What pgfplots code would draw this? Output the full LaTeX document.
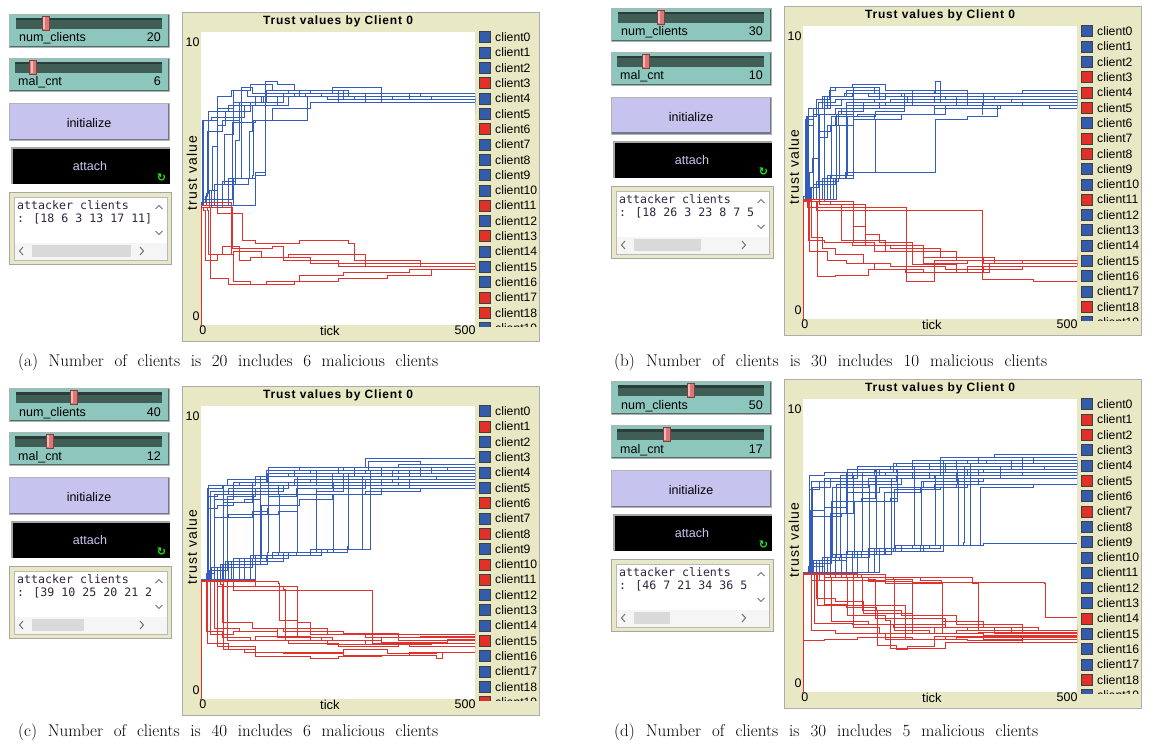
\documentclass[border=0pt]{standalone}
\usepackage{pgfplots}
\pgfplotsset{compat=1.18}
\usepackage{fontspec}
\newfontfamily\nlfont{Liberation Sans}
\newfontfamily\nlwide{Liberation Sans}[LetterSpace=8]
\newfontfamily\nltitle{Liberation Sans}[LetterSpace=7]
\newfontfamily\nlmono{DejaVu Sans Mono}
\newfontfamily\djv{DejaVu Sans}
\definecolor{blu}{RGB}{52,92,188}
\definecolor{rd}{RGB}{224,50,44}
\definecolor{legblue}{RGB}{52,92,172}
\definecolor{legred}{RGB}{226,48,40}
\definecolor{plotbg}{RGB}{233,232,196}
\definecolor{sliderbg}{RGB}{140,198,188}
\definecolor{track}{RGB}{64,94,86}
\definecolor{thumb}{RGB}{222,118,118}
\definecolor{btn}{RGB}{198,196,238}
\definecolor{monbg}{RGB}{232,232,198}
\definecolor{attachtxt}{RGB}{200,200,240}
\definecolor{montxt}{RGB}{48,36,60}

\pgfplotsset{
  nlaxis/.style={
    scale only axis, width=274.3pt, height=293pt,
    anchor=south west,
    xmin=0,xmax=500,ymin=0,ymax=10,
    axis background/.style={fill=white},
    axis line style={draw=none},
    major tick length=0pt,
    xtick={4,482}, xticklabels={0,500},
    ytick={0.31,9.66}, yticklabels={0,10},
    tick label style={font=\nlfont\fontsize{12.5}{13}\selectfont, inner sep=1pt},
    xticklabel style={anchor=north},
    yticklabel style={anchor=east},
    xlabel={tick}, ylabel={trust value},
    every axis x label/.style={at={(axis description cs:0.471,0)},anchor=north,font=\nlfont\fontsize{13}{14}\selectfont,inner sep=1pt},
    every axis y label/.style={at={(axis description cs:-0.032,0.519)},rotate=90,anchor=center,font=\nlwide\fontsize{14}{15}\selectfont},
    every axis plot/.append style={line width=0.7pt, const plot, mark=none},
    clip=true,
  },
}
\newcommand{\bline}[1]{\addplot[blu] coordinates {#1};}
\newcommand{\rline}[1]{\addplot[rd] coordinates {#1};}

% widgets: ox, oy, num, thumb1, mal, thumb2, attackers, scrollthumb end
\newcommand{\widgets}[8]{%
\begin{scope}[x=1pt,y=-1pt,shift={(#1,#2)}]
 % slider 1
 \fill[sliderbg] (9,14) rectangle (169,47);
 \draw[white!60!sliderbg, line width=1.2pt] (9.8,46.2)--(9.8,14.8)--(168.2,14.8);
 \draw[black!45!sliderbg, line width=1.2pt] (9.8,46.2)--(168.2,46.2)--(168.2,14.8);
 \draw[gray!60] (9,14) rectangle (169,47);
 \fill[track] (16,18) rectangle (162,29);
 \fill[black!35!track] (16,18) rectangle (162,20.5);
 \draw[thumb!55!black, fill=thumb] (#4,16) rectangle ++(7,14);
 \fill[white!50!thumb] (#4+1,17) rectangle ++(2,12);
 \node[anchor=base west, font=\nlfont\fontsize{12.5}{13}\selectfont, inner sep=0] at (19,42) {num\_clients};
 \node[anchor=base east, font=\nlfont\fontsize{12.5}{13}\selectfont, inner sep=0] at (161,42) {#3};
 % slider 2
 \fill[sliderbg] (9,58) rectangle (169,91);
 \draw[white!60!sliderbg, line width=1.2pt] (9.8,90.2)--(9.8,58.8)--(168.2,58.8);
 \draw[black!45!sliderbg, line width=1.2pt] (9.8,90.2)--(168.2,90.2)--(168.2,58.8);
 \draw[gray!60] (9,58) rectangle (169,91);
 \fill[track] (15,62) rectangle (162,73);
 \fill[black!35!track] (15,62) rectangle (162,64.5);
 \draw[thumb!55!black, fill=thumb] (#6,60) rectangle ++(7,14);
 \fill[white!50!thumb] (#6+1,61) rectangle ++(2,12);
 \node[anchor=base west, font=\nlfont\fontsize{12.5}{13}\selectfont, inner sep=0] at (18,86) {mal\_cnt};
 \node[anchor=base east, font=\nlfont\fontsize{12.5}{13}\selectfont, inner sep=0] at (161,86) {#5};
 % initialize
 \fill[btn] (9,103) rectangle (169,140);
 \draw[white!50!btn, line width=1.2pt] (9.8,139.2)--(9.8,103.8)--(168.2,103.8);
 \draw[black!40!btn, line width=1.4pt] (9.8,139.2)--(168.2,139.2)--(168.2,103.8);
 \draw[gray!60] (9,103) rectangle (169,140);
 \node[font=\nlfont\fontsize{12.5}{13}\selectfont] at (89,123) {initialize};
 % attach
 \fill[black] (11,147) rectangle (170,184);
 \draw[gray!70, line width=1.6pt] (11.8,184)--(11.8,147.8)--(170,147.8);
 \node[font=\nlfont\fontsize{12.5}{13}\selectfont, text=attachtxt] at (90,166) {attach};
 \node[font=\djv\bfseries\fontsize{11}{11}\selectfont, text={rgb,255:red,30;green,235;blue,30}, inner sep=0] at (161.5,178) {↻};
 % monitor
 \fill[monbg] (9,192) rectangle (172,265);
 \draw[gray!70, line width=1pt] (9.5,192.5) rectangle (171.5,264.5);
 \fill[white] (14,197) rectangle (167,260);
 \draw[gray!55, line width=0.8pt] (14,197) rectangle (167,260);
 \fill[gray!8] (14.5,243) rectangle (166.5,259.5);
 \fill[gray!30] (32,245) rectangle (#8,257);
 \draw[gray!90!black, line width=1pt] (23,247)--(19.5,251)--(23,255);
 \draw[gray!90!black, line width=1pt] (140,247)--(143.5,251)--(140,255);
 \draw[gray!90!black, line width=1pt] (155.5,209)--(159,205.5)--(162.5,209);
 \draw[gray!90!black, line width=1pt] (155.5,231)--(159,234.5)--(162.5,231);
 \begin{scope}
  \clip (14,197) rectangle (151.5,242);
  \node[anchor=base west, font=\nlmono\fontsize{11.6}{12}\selectfont, text=montxt, inner sep=0] at (17,209) {attacker clients};
  \node[anchor=base west, font=\nlmono\fontsize{11.6}{12}\selectfont, text=montxt, inner sep=0] at (17,222) {#7};
 \end{scope}
\end{scope}}

\newcommand{\plotframe}[3]{%
\begin{scope}[x=1pt,y=-1pt,shift={(#1,#2)}]
 \fill[plotbg] (182,12) rectangle (540,342);
 \draw[gray!65, line width=1.2pt] (182.6,12.6) rectangle (539.4,341.4);
 \node[font=\nltitle\bfseries\fontsize{12}{12}\selectfont, inner sep=0] at (338,21) {Trust values by Client 0};
 \begin{scope}
  \clip (476,30) rectangle (536.5,326);
  \foreach \c [count=\i from 0] in {#3} {
    \draw[fill=\c, draw=black!75, line width=0.6pt] (479.5,{31.5+15.33*\i}) rectangle ++(11,11);
    \node[anchor=west, font=\nlfont\fontsize{12.2}{13}\selectfont, inner sep=0] at (495,{37+15.33*\i}) {client\i};
  }
 \end{scope}
\end{scope}}

\begin{document}
\begin{tikzpicture}
\useasboundingbox (0pt,0pt) rectangle (1153pt,-749pt);

\widgets{0}{0}{20}{42}{6}{29.5}{: [18 6 3 13 17 11]}{131}
\widgets{602}{-6}{30}{55}{10}{40}{: [18 26 3 23 8 7 5}{99}
\widgets{0}{374}{40}{70}{12}{46}{: [39 10 25 20 21 2}{84}
\widgets{602}{367}{50}{85}{17}{61}{: [46 7 21 34 36 5}{68}

\plotframe{0}{0}{legblue,legblue,legblue,legred,legblue,legblue,legred,legblue,legblue,legblue,legblue,legred,legblue,legred,legblue,legblue,legblue,legred,legred,legblue}
\plotframe{602}{-6}{legblue,legblue,legblue,legred,legred,legred,legblue,legred,legred,legblue,legblue,legred,legblue,legblue,legblue,legblue,legblue,legblue,legred,legblue}
\plotframe{0}{374}{legblue,legred,legblue,legblue,legblue,legblue,legred,legblue,legred,legblue,legred,legred,legblue,legblue,legblue,legred,legblue,legblue,legblue,legred}
\plotframe{602}{367}{legblue,legred,legred,legblue,legblue,legred,legblue,legred,legblue,legblue,legblue,legblue,legblue,legblue,legred,legblue,legblue,legblue,legred,legblue}

\node[anchor=west, inner sep=0, font=\fontsize{17}{20}\selectfont] at (18pt,-362pt) {\makebox[420pt][s]{(a) Number of clients is 20 includes 6 malicious clients}};
\node[anchor=west, inner sep=0, font=\fontsize{17}{20}\selectfont] at (614pt,-362pt) {\makebox[433pt][s]{(b) Number of clients is 30 includes 10 malicious clients}};
\node[anchor=west, inner sep=0, font=\fontsize{17}{20}\selectfont] at (18pt,-732pt) {\makebox[420pt][s]{(c) Number of clients is 40 includes 6 malicious clients}};
\node[anchor=west, inner sep=0, font=\fontsize{17}{20}\selectfont] at (614pt,-732pt) {\makebox[424pt][s]{(d) Number of clients is 30 includes 5 malicious clients}};

% ---------------- (a)
\begin{axis}[nlaxis, at={(200.7pt,-325pt)}]
\bline{(0,0)(1,4.1)(3,7.0)(20,7.1)(45,7.3)(90,7.6)(150,7.9)(250,7.8)(350,7.7)(500,7.6)}
\bline{(0,0)(1,4.1)(5,7.0)(30,7.4)(60,7.6)(120,8.0)(200,7.9)(300,7.8)(420,7.7)(500,7.7)}
\bline{(0,0)(1,4.2)(8,4.4)(12,6.6)(40,7.0)(70,7.6)(115,7.8)(220,7.9)(330,7.6)(500,7.5)}
\bline{(0,0)(1,4.1)(10,4.5)(14,7.3)(50,7.5)(100,7.8)(190,7.9)(300,7.8)(500,7.8)}
\bline{(0,0)(1,4.1)(15,4.6)(22,6.1)(30,7.8)(55,8.0)(90,8.2)(130,8.0)(260,7.9)(380,7.7)(500,7.7)}
\bline{(0,0)(1,4.0)(20,4.6)(30,6.8)(45,7.1)(80,7.5)(160,7.8)(280,7.7)(500,7.6)}
\bline{(0,0)(1,4.1)(25,4.8)(44,6.5)(60,8.0)(85,7.8)(150,7.9)(250,7.6)(500,7.4)}
\bline{(0,0)(1,4.1)(30,4.8)(63,6.3)(70,7.6)(110,7.8)(180,8.0)(270,7.8)(500,7.7)}
\bline{(0,0)(1,4.0)(40,4.9)(63,5.0)(75,8.1)(95,7.9)(170,7.8)(260,7.7)(500,7.2)}
\bline{(0,0)(1,4.1)(40,4.8)(86,5.0)(88,6.6)(95,7.5)(140,7.8)(230,7.7)(500,7.6)}
\bline{(0,0)(1,4.1)(50,5.0)(94,5.1)(96,7.0)(130,7.4)(200,7.6)(300,7.8)(500,7.8)}
\bline{(0,0)(1,4.1)(60,5.0)(100,5.2)(117,5.3)(118,8.0)(160,7.9)(240,8.1)(330,7.9)(500,7.8)}
\bline{(0,0)(1,4.1)(5,4.3)(58,6.9)(100,7.0)(175,7.0)(194,7.8)(260,7.9)(400,7.8)(500,7.6)}
\bline{(0,0)(1,4.1)(100,5.1)(117,5.2)(118,8.3)(140,8.2)(170,8.0)(250,7.8)(500,7.6)}
\rline{(0,0)(1,4.0)(5,3.9)(8,2.2)(30,2.4)(60,2.5)(110,2.3)(200,2.1)(300,2.0)(500,1.9)}
\rline{(0,0)(1,4.1)(16,4.0)(18,1.6)(50,1.4)(120,1.5)(180,1.7)(260,1.8)(380,1.9)(500,2.0)}
\rline{(0,0)(1,4.1)(10,4.2)(40,4.0)(57,2.6)(80,2.6)(130,2.7)(150,2.2)(250,2.0)(400,2.0)(500,2.0)}
\rline{(0,0)(1,4.0)(30,3.8)(75,3.8)(76,2.9)(100,2.8)(180,2.9)(270,2.8)(280,2.2)(400,2.0)(500,2.1)}
\rline{(0,0)(1,4.0)(12,3.9)(14,2.4)(40,2.7)(70,2.2)(90,2.3)(160,2.4)(300,2.1)(500,1.9)}
\rline{(0,0)(1,4.0)(30,4.2)(55,2.4)(60,1.5)(90,1.4)(130,1.4)(170,1.5)(250,1.6)(340,1.7)(420,1.9)(500,1.95)}
\end{axis}

% ---------------- (b)
\begin{axis}[nlaxis, at={(802.7pt,-319pt)}]
\bline{(0,0)(1,4.1)(6,6.6)(20,7.0)(40,7.3)(70,7.5)(130,7.4)(240,7.6)(350,7.5)(500,7.6)}
\bline{(0,0)(1,4.1)(8,6.9)(25,7.5)(48,7.8)(60,7.9)(140,7.7)(250,7.4)(380,7.5)(500,7.4)}
\bline{(0,0)(1,4.2)(10,4.5)(20,7.2)(45,7.6)(90,7.7)(180,7.6)(300,7.3)(500,7.3)}
\bline{(0,0)(1,4.1)(15,4.5)(31,6.2)(45,6.6)(60,6.9)(100,7.0)(240,7.2)(360,7.3)(500,7.2)}
\bline{(0,0)(1,4.1)(20,4.6)(31,6.4)(51,6.6)(65,7.1)(110,7.3)(200,7.5)(330,7.6)(500,7.5)}
\bline{(0,0)(1,4.1)(25,4.7)(51,4.8)(52,6.9)(80,7.4)(160,7.5)(260,7.6)(420,7.6)(500,7.7)}
\bline{(0,0)(1,4.1)(30,4.7)(65,4.8)(66,6.6)(92,6.8)(130,7.0)(240,7.3)(330,7.4)(500,7.6)}
\bline{(0,0)(1,4.1)(35,4.8)(78,4.9)(79,7.3)(110,7.4)(200,7.6)(300,7.7)(500,7.8)}
\bline{(0,0)(1,4.1)(40,4.8)(78,5.0)(130,5.0)(132,6.8)(180,7.0)(260,7.3)(400,7.4)(500,7.3)}
\bline{(0,0)(1,4.1)(50,4.9)(78,5.0)(240,5.0)(241,6.8)(300,6.9)(354,6.9)(355,7.3)(450,7.2)(500,7.3)}
\bline{(0,0)(1,4.1)(45,4.9)(92,5.0)(93,7.5)(150,7.7)(240,7.7)(241,8.1)(250,8.1)(251,7.6)(330,7.7)(500,7.8)}
\bline{(0,0)(1,4.1)(55,4.8)(92,5.2)(93,7.9)(130,7.7)(186,7.5)(280,7.6)(500,7.6)}
\bline{(0,0)(1,4.1)(4,6.8)(20,7.0)(60,7.2)(140,7.4)(240,7.4)(330,7.5)(500,7.5)}
\bline{(0,0)(1,4.1)(12,5.0)(18,5.5)(30,7.0)(70,7.2)(186,7.6)(280,7.3)(500,7.4)}
\bline{(0,0)(1,4.1)(62,7.0)(92,7.3)(150,7.4)(240,7.4)(327,7.0)(328,7.3)(500,7.4)}
\bline{(0,0)(1,4.1)(31,4.6)(40,7.6)(80,7.8)(140,7.6)(240,7.5)(330,7.4)(500,7.5)}
\bline{(0,0)(1,4.1)(10,7.2)(35,7.6)(75,7.7)(120,7.6)(200,7.8)(300,7.7)(400,7.8)(500,7.7)}
\bline{(0,0)(1,4.1)(20,4.6)(60,4.8)(80,4.9)(81,6.9)(132,7.1)(186,7.3)(300,7.4)(500,7.5)}
\bline{(0,0)(1,4.1)(6,6.9)(25,7.2)(50,7.9)(90,8.0)(150,7.8)(240,7.7)(350,7.7)(500,7.6)}
\bline{(0,0)(1,4.1)(14,4.5)(28,7.4)(60,7.5)(140,7.6)(190,7.4)(300,7.5)(500,7.4)}
\rline{(0,0)(1,4.05)(8,3.8)(188,3.8)(189,1.3)(240,1.6)(330,1.8)(500,1.9)}
\rline{(0,0)(1,4.0)(25,3.7)(327,3.7)(328,1.35)(420,1.3)(500,1.35)}
\rline{(0,0)(1,4.05)(10,2.7)(40,2.6)(90,2.5)(150,2.3)(220,2.1)(330,1.9)(500,1.8)}
\rline{(0,0)(1,4.0)(26,1.45)(60,1.5)(120,1.7)(188,1.6)(240,2.0)(330,1.9)(500,2.0)}
\rline{(0,0)(1,4.0)(50,3.9)(92,3.15)(115,2.9)(140,2.6)(200,2.3)(280,2.0)(400,1.9)(500,1.85)}
\rline{(0,0)(1,4.1)(30,3.9)(113,3.9)(114,2.5)(160,2.4)(250,2.1)(350,1.9)(500,2.1)}
\rline{(0,0)(1,4.05)(15,2.8)(35,2.4)(60,2.2)(110,1.9)(160,1.8)(260,1.7)(400,1.8)(500,1.9)}
\rline{(0,0)(1,4.0)(30,3.9)(70,2.7)(150,2.5)(220,1.9)(300,2.0)(500,2.2)}
\rline{(0,0)(1,4.0)(12,2.3)(45,2.0)(80,1.9)(130,1.7)(220,1.6)(300,1.8)(500,1.8)}
\rline{(0,0)(1,4.1)(40,4.0)(92,2.6)(130,2.3)(200,1.85)(280,1.6)(340,1.9)(500,1.9)}
\end{axis}

% ---------------- (c)
\begin{axis}[nlaxis, at={(200.7pt,-699pt)}]
\bline{(0,0)(1,4.1)(13,7.2)(40,7.3)(100,7.6)(160,7.7)(250,7.9)(360,8.0)(500,8.1)}
\bline{(0,0)(1,4.1)(14,6.5)(30,6.6)(60,6.7)(95,7.1)(150,7.3)(240,7.5)(360,7.6)(500,7.5)}
\bline{(0,0)(1,4.1)(10,4.3)(24,7.0)(50,7.2)(108,7.6)(170,7.8)(280,7.7)(400,7.6)(500,7.7)}
\bline{(0,0)(1,4.1)(15,4.4)(41,7.3)(70,7.4)(122,7.7)(200,7.8)(305,8.1)(400,8.0)(500,8.1)}
\bline{(0,0)(1,4.1)(20,4.4)(48,6.2)(95,6.3)(122,6.4)(123,7.4)(200,7.5)(300,7.3)(500,7.4)}
\bline{(0,0)(1,4.1)(20,4.5)(48,4.6)(49,6.9)(100,7.0)(175,7.2)(260,7.4)(380,7.5)(500,7.5)}
\bline{(0,0)(1,4.1)(30,4.5)(95,4.8)(96,7.0)(142,7.3)(210,7.6)(330,7.7)(500,7.6)}
\bline{(0,0)(1,4.1)(40,4.6)(108,4.9)(109,7.3)(170,7.5)(260,7.7)(400,7.8)(500,7.8)}
\bline{(0,0)(1,4.1)(40,4.6)(122,5.0)(123,6.9)(175,7.2)(240,7.4)(360,7.3)(500,7.2)}
\bline{(0,0)(1,4.1)(50,4.7)(122,4.9)(142,5.0)(143,7.0)(210,7.2)(300,7.5)(500,7.6)}
\bline{(0,0)(1,4.1)(60,4.7)(120,4.9)(175,5.0)(176,7.5)(240,7.7)(330,7.9)(500,7.8)}
\bline{(0,0)(1,4.1)(60,4.8)(130,5.0)(210,5.1)(211,7.1)(260,7.3)(330,7.4)(500,7.3)}
\bline{(0,0)(1,4.1)(70,4.8)(150,5.0)(241,5.1)(242,7.0)(300,7.1)(400,7.2)(500,7.1)}
\bline{(0,0)(1,4.1)(80,4.8)(160,5.0)(268,5.2)(269,7.3)(330,7.5)(430,7.6)(500,7.6)}
\bline{(0,0)(1,4.1)(90,4.9)(200,5.1)(294,5.2)(295,7.6)(350,7.8)(450,7.9)(500,7.9)}
\bline{(0,0)(1,4.1)(100,4.9)(220,5.1)(309,5.3)(310,7.2)(380,7.4)(500,7.4)}
\bline{(0,0)(1,4.1)(12,6.9)(30,7.0)(60,7.2)(108,7.0)(309,7.1)(310,7.8)(400,7.9)(500,8.0)}
\bline{(0,0)(1,4.1)(24,6.2)(50,6.3)(95,6.4)(122,6.5)(123,7.9)(200,7.9)(300,8.2)(500,8.3)}
\bline{(0,0)(1,4.1)(18,7.1)(60,7.4)(120,7.8)(180,7.9)(260,7.8)(380,7.7)(500,7.8)}
\bline{(0,0)(1,4.1)(41,6.7)(80,6.8)(108,7.0)(210,7.1)(241,7.4)(350,7.5)(500,7.7)}
\bline{(0,0)(1,4.1)(13,4.3)(24,6.8)(60,7.0)(100,7.2)(160,7.4)(260,7.6)(380,7.8)(500,7.9)}
\bline{(0,0)(1,4.1)(25,4.5)(41,4.6)(42,7.1)(95,7.4)(176,7.6)(280,7.9)(420,7.7)(500,7.6)}
\bline{(0,0)(1,4.1)(45,4.7)(95,4.8)(110,5.0)(111,6.6)(180,6.8)(240,7.0)(330,7.2)(500,7.3)}
\bline{(0,0)(1,4.1)(55,4.7)(150,5.0)(230,5.1)(268,5.1)(269,7.7)(360,7.8)(500,7.7)}
\bline{(0,0)(1,4.1)(14,7.3)(48,7.5)(122,7.6)(210,7.8)(300,7.7)(420,7.9)(500,7.8)}
\bline{(0,0)(1,4.1)(35,4.6)(80,4.8)(95,4.8)(96,6.3)(142,6.4)(176,6.5)(177,7.3)(300,7.4)(500,7.5)}
\rline{(0,0)(1,4.0)(10,2.3)(40,2.1)(90,2.0)(160,1.9)(250,1.8)(360,1.9)(500,2.0)}
\rline{(0,0)(1,4.05)(13,1.9)(50,1.7)(100,1.6)(170,1.6)(260,1.7)(340,1.55)(430,1.6)(500,1.65)}
\rline{(0,0)(1,4.0)(24,3.9)(25,2.4)(70,2.3)(140,2.1)(220,2.0)(330,2.1)(500,2.2)}
\rline{(0,0)(1,4.0)(41,3.9)(42,1.7)(80,1.6)(150,1.55)(260,1.5)(380,1.6)(500,1.8)}
\rline{(0,0)(1,4.05)(48,3.95)(49,2.0)(100,2.15)(200,2.0)(300,1.85)(420,1.9)(500,1.9)}
\rline{(0,0)(1,4.0)(142,3.95)(143,2.7)(176,2.6)(200,2.2)(300,2.1)(400,2.15)(500,2.4)}
\rline{(0,0)(1,4.0)(30,3.85)(176,3.8)(177,2.1)(240,2.0)(330,1.95)(450,2.05)(500,2.1)}
\rline{(0,0)(1,4.05)(60,3.7)(311,3.7)(312,1.9)(380,1.8)(500,1.75)}
\rline{(0,0)(1,4.0)(18,2.2)(60,2.3)(140,2.4)(230,2.2)(330,2.2)(500,2.3)}
\rline{(0,0)(1,4.0)(12,4.0)(30,1.8)(100,1.45)(200,1.4)(250,1.45)(330,1.5)(430,1.4)(440,1.6)(500,1.6)}
\rline{(0,0)(1,4.05)(100,3.85)(150,3.75)(155,2.0)(230,1.85)(330,1.9)(500,1.95)}
\rline{(0,0)(1,4.0)(35,3.9)(40,2.6)(95,2.4)(150,2.3)(260,2.25)(360,2.0)(500,2.05)}
\end{axis}

% ---------------- (d)
\begin{axis}[nlaxis, at={(802.7pt,-692pt)}]
\bline{(0,0)(1,4.1)(15,7.2)(50,7.3)(100,7.5)(166,7.8)(250,8.0)(350,8.1)(500,8.1)}
\bline{(0,0)(1,4.1)(16,6.0)(50,6.1)(78,6.1)(79,7.4)(140,7.6)(230,7.8)(334,7.9)(500,7.9)}
\bline{(0,0)(1,4.1)(18,7.0)(51,7.2)(92,7.4)(150,7.5)(260,7.6)(380,7.7)(500,7.6)}
\bline{(0,0)(1,4.1)(10,4.3)(40,7.3)(90,7.5)(170,7.6)(280,7.9)(420,7.8)(500,7.8)}
\bline{(0,0)(1,4.1)(15,4.4)(51,6.1)(92,6.5)(150,6.5)(172,6.6)(173,7.6)(250,7.7)(360,7.5)(500,7.5)}
\bline{(0,0)(1,4.1)(20,4.4)(53,4.6)(54,7.0)(120,7.3)(200,7.5)(300,7.4)(500,7.3)}
\bline{(0,0)(1,4.1)(25,4.5)(67,4.6)(68,7.4)(130,7.6)(199,7.9)(320,7.8)(500,7.7)}
\bline{(0,0)(1,4.1)(30,4.5)(80,4.7)(81,6.8)(140,7.0)(220,7.2)(330,7.3)(500,7.2)}
\bline{(0,0)(1,4.1)(35,4.6)(94,4.7)(95,6.5)(160,6.6)(172,6.9)(250,7.0)(280,7.1)(281,7.6)(400,7.7)(500,7.6)}
\bline{(0,0)(1,4.1)(40,4.6)(107,4.8)(108,7.5)(170,7.6)(260,7.7)(400,7.9)(500,7.9)}
\bline{(0,0)(1,4.1)(45,4.6)(121,4.8)(122,7.1)(180,7.3)(280,7.5)(500,7.4)}
\bline{(0,0)(1,4.1)(50,4.7)(134,4.9)(135,7.6)(200,7.8)(300,7.9)(500,8.0)}
\bline{(0,0)(1,4.1)(60,4.7)(148,4.9)(149,6.8)(215,7.0)(300,7.1)(500,7.2)}
\bline{(0,0)(1,4.1)(70,4.7)(161,4.9)(162,7.3)(230,7.5)(330,7.6)(500,7.6)}
\bline{(0,0)(1,4.1)(80,4.8)(168,5.0)(202,5.0)(203,7.7)(260,7.8)(380,7.9)(500,7.8)}
\bline{(0,0)(1,4.1)(90,4.8)(215,5.0)(216,7.2)(280,7.4)(400,7.5)(500,7.4)}
\bline{(0,0)(1,4.1)(100,4.8)(256,5.0)(257,7.9)(320,8.0)(420,7.9)(500,8.0)}
\bline{(0,0)(1,4.1)(120,4.9)(200,5.0)(283,5.1)(284,7.3)(360,7.4)(500,7.5)}
\bline{(0,0)(1,4.1)(130,4.9)(230,5.0)(293,5.1)(294,7.7)(380,7.8)(500,7.7)}
\bline{(0,0)(1,4.1)(140,4.9)(250,5.0)(323,5.1)(324,7.0)(420,7.1)(500,7.1)}
\bline{(0,0)(1,4.1)(60,4.7)(150,4.9)(250,5.0)(330,5.07)(500,5.07)}
\bline{(0,0)(1,4.1)(13,6.9)(30,7.2)(80,7.5)(132,7.6)(200,7.7)(300,7.7)(500,7.9)}
\bline{(0,0)(1,4.1)(13,7.4)(40,7.5)(100,7.7)(170,7.8)(250,7.7)(380,7.8)(500,7.9)}
\bline{(0,0)(1,4.1)(18,4.4)(40,6.0)(70,6.1)(92,6.2)(93,7.2)(170,7.4)(300,7.6)(500,7.7)}
\bline{(0,0)(1,4.1)(20,4.5)(51,4.6)(52,6.5)(107,6.6)(132,6.7)(133,7.4)(250,7.6)(500,7.5)}
\bline{(0,0)(1,4.1)(40,4.6)(90,4.8)(166,4.9)(167,6.9)(240,7.1)(320,7.3)(500,7.3)}
\bline{(0,0)(1,4.1)(80,4.8)(180,5.0)(240,5.0)(241,7.4)(320,7.6)(440,7.7)(500,7.8)}
\bline{(0,0)(1,4.1)(100,4.8)(220,5.0)(305,5.1)(306,7.8)(400,8.0)(500,8.0)}
\bline{(0,0)(1,4.1)(14,6.2)(40,6.3)(80,6.4)(81,7.6)(160,7.7)(280,7.8)(500,7.7)}
\bline{(0,0)(1,4.1)(30,4.5)(60,4.6)(61,7.1)(120,7.3)(240,7.4)(360,7.5)(500,7.6)}
\rline{(0,0)(1,4.05)(30,3.8)(120,3.78)(200,3.75)(441,3.72)(442,2.55)(500,2.55)}
\rline{(0,0)(1,4.0)(2,1.75)(40,1.8)(100,1.85)(200,1.8)(300,1.75)(400,1.7)(500,1.75)}
\rline{(0,0)(1,4.05)(27,2.97)(100,2.95)(187,2.9)(188,1.8)(260,1.9)(360,1.85)(500,1.9)}
\rline{(0,0)(1,4.0)(20,4.0)(22,2.35)(90,2.3)(166,2.2)(240,2.0)(330,1.95)(500,2.0)}
\rline{(0,0)(1,4.05)(51,3.9)(52,2.4)(120,2.3)(199,2.0)(280,2.1)(380,2.1)(500,2.2)}
\rline{(0,0)(1,4.0)(80,3.9)(81,2.6)(150,2.45)(160,1.5)(190,1.55)(240,1.9)(360,1.9)(500,1.8)}
\rline{(0,0)(1,4.05)(92,3.95)(93,2.2)(140,2.0)(230,2.0)(330,1.9)(450,1.95)(500,2.0)}
\rline{(0,0)(1,4.0)(40,3.9)(120,3.85)(132,2.5)(200,2.2)(300,2.1)(500,2.3)}
\rline{(0,0)(1,4.05)(100,3.9)(166,3.85)(167,2.1)(230,2.0)(320,2.05)(500,2.15)}
\rline{(0,0)(1,4.0)(150,3.85)(199,3.8)(200,2.3)(260,2.2)(350,2.0)(500,1.95)}
\rline{(0,0)(1,4.0)(60,3.9)(215,3.8)(253,3.75)(254,2.4)(330,2.2)(430,2.1)(500,2.0)}
\rline{(0,0)(1,4.05)(10,4.0)(15,2.1)(60,2.0)(150,1.8)(280,1.85)(400,1.8)(500,1.9)}
\rline{(0,0)(1,4.0)(70,3.9)(310,3.7)(320,2.1)(400,2.0)(500,2.1)}
\rline{(0,0)(1,4.0)(40,3.0)(80,2.9)(135,2.8)(136,1.6)(170,1.45)(190,1.5)(260,1.7)(380,1.7)(500,1.75)}
\rline{(0,0)(1,4.0)(25,3.2)(60,3.1)(110,2.7)(199,2.5)(260,2.2)(380,2.0)(500,2.0)}
\rline{(0,0)(1,4.05)(40,4.0)(107,3.9)(108,2.8)(180,2.6)(280,2.3)(400,2.1)(500,2.1)}
\rline{(0,0)(1,4.0)(15,3.8)(150,3.7)(253,3.7)(254,2.0)(330,1.8)(500,1.7)}
\end{axis}
\end{tikzpicture}
\end{document}
